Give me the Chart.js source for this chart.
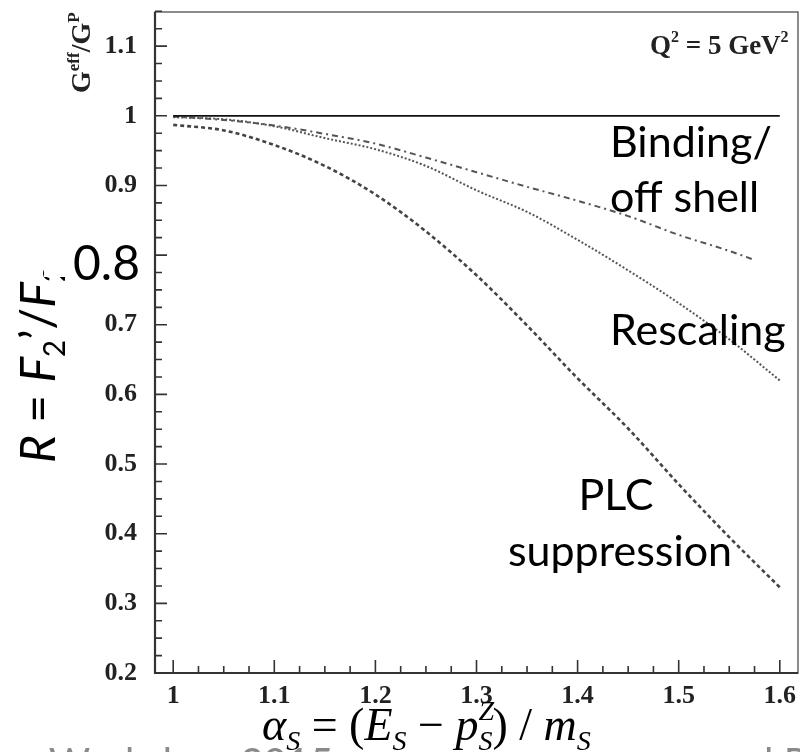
<!DOCTYPE html>
<html>
<head>
<meta charset="utf-8">
<script src="https://cdn.jsdelivr.net/npm/chart.js@4.4.1/dist/chart.umd.min.js"></script>
<style>
html, body { margin: 0; padding: 0; background: #fff; }
canvas { display: block; }
</style>
</head>
<body>
<canvas id="myChart" width="800" height="752"></canvas>
<script>
// valores
var xVals = [1.0, 1.05, 1.1, 1.15, 1.2, 1.25, 1.3, 1.35, 1.4, 1.45, 1.5, 1.55, 1.6];
var plcVals = [0.987, 0.979, 0.958, 0.928, 0.887, 0.834, 0.771, 0.699, 0.623, 0.551, 0.471, 0.395, 0.323];
var rescalingVals = [0.998, 0.995, 0.985, 0.968, 0.952, 0.928, 0.893, 0.862, 0.822, 0.778, 0.731, 0.679, 0.620];
var bindingX = [1.0, 1.05, 1.1, 1.15, 1.2, 1.25, 1.3, 1.35, 1.4, 1.45, 1.5, 1.55, 1.575];
var bindingVals = [0.999, 0.994, 0.986, 0.974, 0.960, 0.940, 0.919, 0.898, 0.878, 0.856, 0.829, 0.806, 0.793];
var unityX = [1.0, 1.6];
var unityVals = [1, 1];

var xTicks = [1, 1.1, 1.2, 1.3, 1.4, 1.5, 1.6];
var xTickLabels = ['1', '1.1', '1.2', '1.3', '1.4', '1.5', '1.6'];
var yTicks = [0.2, 0.3, 0.4, 0.5, 0.6, 0.7, 0.8, 0.9, 1.0, 1.1];
var yTickLabels = ['0.2', '0.3', '0.4', '0.5', '0.6', '0.7', '', '0.9', '1', '1.1'];

function pares(xs, ys) {
    return xs.map(function (x, i) { return { x: x, y: ys[i] }; });
}

function drawRich(ctx, parts, x, y) {
    parts.forEach(function (p) {
        ctx.font = p.f;
        ctx.fillText(p.t, x, y + (p.dy || 0));
        if (!p.noAdv) x += ctx.measureText(p.t).width;
    });
}

function sinPadding(scale) {
    scale.paddingTop = 0;
    scale.paddingBottom = 0;
    scale.paddingLeft = 0;
    scale.paddingRight = 0;
}

var serif = '"Liberation Serif", "Times New Roman", serif';

// ticks hacia dentro, marco y textos de la diapositiva
var decoraciones = {
    id: 'decoraciones',
    afterDraw: function (chart) {
        var ctx = chart.ctx;
        var a = chart.chartArea;
        var xs = chart.scales.x, ys = chart.scales.y;
        ctx.save();

        ctx.strokeStyle = '#666';
        ctx.lineWidth = 1.5;
        ctx.strokeRect(a.left, a.top, a.right - a.left, a.bottom - a.top);
        ctx.strokeStyle = '#333';
        ctx.lineWidth = 2.2;
        ctx.beginPath();
        ctx.moveTo(a.left, a.top);
        ctx.lineTo(a.left, a.bottom);
        ctx.lineTo(a.right, a.bottom);
        ctx.stroke();

        ctx.lineWidth = 1.6;
        ctx.beginPath();
        for (var i = 0; i <= 24; i++) {
            var px = xs.getPixelForValue(1 + i * 0.025);
            var len = (i % 4 == 0) ? 13 : 7;
            ctx.moveTo(px, a.bottom);
            ctx.lineTo(px, a.bottom - len);
        }
        for (var j = 0; j <= 38; j++) {
            var py = ys.getPixelForValue(0.2 + j * 0.025);
            var lenY = (j % 4 == 0) ? 12 : 7;
            ctx.moveTo(a.left, py);
            ctx.lineTo(a.left + lenY, py);
        }
        ctx.stroke();

        ctx.fillStyle = '#222';
        ctx.textAlign = 'left';
        ctx.textBaseline = 'alphabetic';

        // Q^2 = 5 GeV^2
        drawRich(ctx, [
            { t: 'Q', f: 'bold 27px ' + serif },
            { t: '2', f: 'bold 16px ' + serif, dy: -12 },
            { t: ' = 5 GeV', f: 'bold 27px ' + serif },
            { t: '2', f: 'bold 16px ' + serif, dy: -12 }
        ], 650, 54);

        // G^eff/G^P vertical
        ctx.save();
        ctx.translate(90, 93);
        ctx.rotate(-Math.PI / 2);
        drawRich(ctx, [
            { t: 'G', f: 'bold 28px ' + serif },
            { t: 'eff', f: 'bold 17px ' + serif, dy: -11 },
            { t: '/G', f: 'bold 28px ' + serif },
            { t: 'P', f: 'bold 17px ' + serif, dy: -11 }
        ], 0, 0);
        ctx.restore();

        ctx.fillStyle = '#000';
        // R = F2'/F2 vertical
        ctx.save();
        ctx.translate(55, 463);
        ctx.rotate(-Math.PI / 2);
        drawRich(ctx, [
            { t: 'R', f: 'italic 48px Lato' },
            { t: ' = ', f: '48px Lato' },
            { t: 'F', f: 'italic 48px Lato' },
            { t: '2', f: '30px Lato', dy: 10 },
            { t: '\u2019', f: '48px Lato' },
            { t: '/', f: '48px Lato' },
            { t: 'F', f: 'italic 48px Lato' },
            { t: '2', f: '30px Lato', dy: 10 }
        ], 0, 0);
        ctx.restore();

        ctx.fillStyle = '#fff';
        ctx.fillRect(44, 224, 96, 53);
        ctx.fillStyle = '#000';
        ctx.font = '48px Lato';
        ctx.fillText('0.8', 73, 280);

        ctx.font = '43px Lato';
        ctx.fillText('Binding/', 610, 157);
        ctx.fillText('off shell', 610, 212);
        ctx.fillText('Rescaling', 610, 345);
        ctx.textAlign = 'center';
        ctx.fillText('PLC', 616, 510);
        ctx.fillText('suppression', 620, 566);
        ctx.textAlign = 'left';

        // eje x
        drawRich(ctx, [
            { t: '\u03b1', f: 'italic 46px ' + serif },
            { t: 'S', f: 'italic 28px ' + serif, dy: 10 },
            { t: ' = (', f: '46px ' + serif },
            { t: 'E', f: 'italic 46px ' + serif },
            { t: 'S', f: 'italic 28px ' + serif, dy: 10 },
            { t: ' \u2212 ', f: '46px ' + serif },
            { t: 'p', f: 'italic 46px ' + serif },
            { t: 'Z', f: 'italic 28px ' + serif, dy: -20, noAdv: true },
            { t: 'S', f: 'italic 28px ' + serif, dy: 10 },
            { t: ') / ', f: '46px ' + serif },
            { t: 'm', f: 'italic 46px ' + serif },
            { t: 'S', f: 'italic 28px ' + serif, dy: 10 }
        ], 262, 740);

        // pie de la diapositiva (cortado)
        ctx.fillStyle = '#8a8a8a';
        ctx.font = '40px Lato';
        ctx.fillText('ar Workshop 2015', 4, 777);
        ctx.fillText('l P', 764, 777);

        ctx.restore();
    }
};

var ctx = document.getElementById('myChart').getContext('2d');

var graphData = {
    type: 'line',
    data: {
        datasets: [{
            label: 'Unity',
            data: pares(unityX, unityVals),
            borderColor: '#111',
            borderWidth: 1.8
        }, {
            label: 'Binding/off shell',
            data: pares(bindingX, bindingVals),
            borderColor: '#555',
            borderWidth: 2,
            borderDash: [6, 4, 2, 4]
        }, {
            label: 'Rescaling',
            data: pares(xVals, rescalingVals),
            borderColor: '#555',
            borderWidth: 2,
            borderDash: [2, 2]
        }, {
            label: 'PLC suppression',
            data: pares(xVals, plcVals),
            borderColor: '#444',
            borderWidth: 2.6,
            borderDash: [4, 3]
        }]
    },
    options: {
        responsive: false,
        animation: false,
        devicePixelRatio: 1,
        layout: { padding: { top: 12, right: 2, left: 0, bottom: 0 } },
        elements: {
            point: { radius: 0 },
            line: { cubicInterpolationMode: 'monotone', fill: false }
        },
        plugins: {
            legend: { display: false },
            tooltip: { enabled: false }
        },
        scales: {
            x: {
                type: 'linear',
                min: 0.982,
                max: 1.618,
                grid: { display: false, drawTicks: false },
                border: { display: false },
                afterBuildTicks: function (scale) {
                    scale.ticks = xTicks.map(function (v) { return { value: v }; });
                },
                afterFit: function (scale) { scale.height = 79; sinPadding(scale); },
                ticks: {
                    padding: 8,
                    color: '#222',
                    maxRotation: 0,
                    font: { family: 'Liberation Serif', weight: 'bold', size: 26 },
                    callback: function (value) {
                        return xTickLabels[xTicks.indexOf(value)];
                    }
                }
            },
            y: {
                type: 'linear',
                min: 0.2,
                max: 1.149,
                grid: { display: false, drawTicks: false },
                border: { display: false },
                afterBuildTicks: function (scale) {
                    scale.ticks = yTicks.map(function (v) { return { value: v }; });
                },
                afterFit: function (scale) { scale.width = 155; sinPadding(scale); },
                ticks: {
                    padding: 18,
                    color: '#222',
                    font: { family: 'Liberation Serif', weight: 'bold', size: 26 },
                    callback: function (value) {
                        return yTickLabels[yTicks.indexOf(value)];
                    }
                }
            }
        }
    },
    plugins: [decoraciones]
};

var myChart = new Chart(ctx, graphData);
</script>
</body>
</html>
